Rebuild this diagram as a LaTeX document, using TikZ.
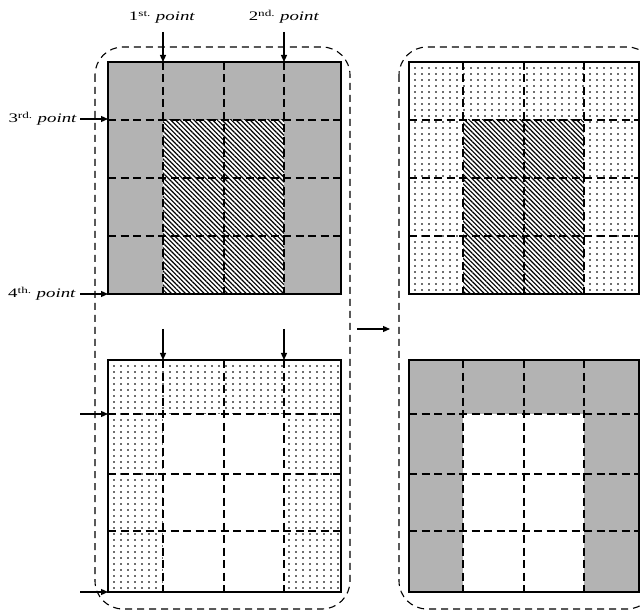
\documentclass[tikz,border=0pt]{standalone}
\usepackage{fontspec}
\usepackage{graphicx}
\setmainfont{Liberation Serif}
\usetikzlibrary{arrows.meta,patterns.meta}
\definecolor{cellgray}{RGB}{179,179,179}
\definecolor{dotgray}{RGB}{110,110,110}
\newcommand{\plabel}[2]{\scalebox{1.45}[1]{{\upshape #1\textsuperscript{#2}} \textit{point}}}
\newcommand{\dotgrid}[4]{% x0, y0, x1, y1
  \begin{scope}
    \clip (#1,#2) rectangle (#3,#4);
    \foreach \i in {0,...,34} {
      \foreach \j in {0,...,39} {
        \fill[dotgray] ({#1+6+\i*7-1},{#2+6+\j*6-1}) rectangle +(2,2);
      }
    }
  \end{scope}}
\begin{document}
\begin{tikzpicture}[x=1pt,y=-1pt,
  gridline/.style={dash pattern=on 8pt off 4.5pt, line width=1.2pt},
  border/.style={line width=1.4pt},
  region/.style={dash pattern=on 7pt off 5pt, line width=1.1pt, rounded corners=28pt},
  pointer/.style={line width=1.2pt, -{Triangle[length=7pt,width=6pt]}},
  hatch/.style={pattern={Lines[angle=-45,distance=3.3pt,line width=1.2pt]}},
  lbl/.style={font=\fontsize{13}{13}\selectfont, inner sep=0pt}
]
\useasboundingbox (0,0) rectangle (640,612);
\clip (0,0) rectangle (640,612);

% ---------- top-left grid ----------
\fill[cellgray] (108,62) rectangle (341,294);
\fill[white] (163,120) rectangle (284,294);
\fill[hatch] (163,120) rectangle (284,294);
\foreach \y in {120,178,236} \draw[gridline] (108,\y) -- (341,\y);
\foreach \x in {163,224,284} \draw[gridline] (\x,62) -- (\x,294);
\draw[border] (108,62) rectangle (341,294);

% ---------- bottom-left grid ----------
\dotgrid{108}{360}{341}{592}
\fill[white] (163,414) rectangle (284,592);
\foreach \y in {414,474,531} \draw[gridline] (108,\y) -- (341,\y);
\foreach \x in {163,224,284} \draw[gridline] (\x,360) -- (\x,592);
\draw[border] (108,360) rectangle (341,592);

% ---------- top-right grid ----------
\dotgrid{409}{62}{639}{294}
\fill[white] (463,120) rectangle (584,294);
\fill[hatch] (463,120) rectangle (584,294);
\foreach \y in {120,178,236} \draw[gridline] (409,\y) -- (639,\y);
\foreach \x in {463,524,584} \draw[gridline] (\x,62) -- (\x,294);
\draw[border] (409,62) rectangle (639,294);

% ---------- bottom-right grid ----------
\fill[cellgray] (409,360) rectangle (639,592);
\fill[white] (463,414) rectangle (584,592);
\foreach \y in {414,474,531} \draw[gridline] (409,\y) -- (639,\y);
\foreach \x in {463,524,584} \draw[gridline] (\x,360) -- (\x,592);
\draw[border] (409,360) rectangle (639,592);

% ---------- dashed regions ----------
\draw[region] (95,47) rectangle (350,609);
\draw[region] (399,47) rectangle (655,609);

% ---------- labels ----------
\node[lbl, anchor=base] (p1) at (162,21) {\plabel{1}{st.}};
\node[lbl, anchor=base] (p2) at (284,21) {\plabel{2}{nd.}};
\node[lbl, anchor=base east] (p3) at (77,123) {\plabel{3}{rd.}};
\node[lbl, anchor=base east] (p4) at (76,298) {\plabel{4}{th.}};

% ---------- arrows ----------
\coordinate (t1s) at (163,32);  \coordinate (t1e) at (163,62);
\coordinate (t2s) at (284,32);  \coordinate (t2e) at (284,62);
\coordinate (l3s) at (80,119);  \coordinate (l3e) at (108,119);
\coordinate (l4s) at (80,294);  \coordinate (l4e) at (108,294);
\coordinate (b1s) at (163,329); \coordinate (b1e) at (163,360);
\coordinate (b2s) at (284,329); \coordinate (b2e) at (284,360);
\coordinate (b3s) at (80,414);  \coordinate (b3e) at (108,414);
\coordinate (b4s) at (80,592);  \coordinate (b4e) at (108,592);
\coordinate (ms) at (357,329);  \coordinate (me) at (390,329);
\foreach \a in {t1,t2,l3,l4,b1,b2,b3,b4,m}
  \draw[pointer] (\a s) -- (\a e);
\end{tikzpicture}
\end{document}
